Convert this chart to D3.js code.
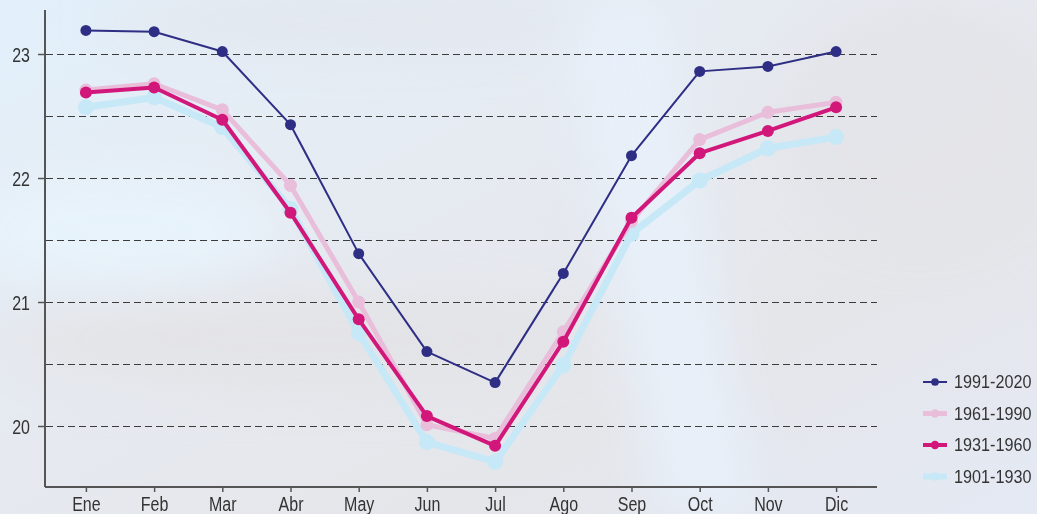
<!DOCTYPE html>
<html>
<head>
<meta charset="utf-8">
<script src="https://cdn.jsdelivr.net/npm/d3@7"></script>
<style>
html,body{margin:0;padding:0;background:#e6e8ee;}
svg{display:block;}
text{font-family:"Liberation Sans",Arial,sans-serif;fill:#333;}
</style>
</head>
<body>
<svg id="chart" width="1037" height="514"></svg>
<script>
const months = ["Ene","Feb","Mar","Abr","May","Jun","Jul","Ago","Sep","Oct","Nov","Dic"];
const yTicks = [20, 21, 22, 23];
const gridValues = [20, 20.5, 21, 21.5, 22, 22.5, 23];

const s1991 = [23.19, 23.18, 23.02, 22.43, 21.39, 20.60, 20.35, 21.23, 22.18, 22.86, 22.90, 23.02];
const s1961 = [22.71, 22.76, 22.55, 21.94, 21.00, 20.01, 19.90, 20.76, 21.65, 22.31, 22.53, 22.61];
const s1931 = [22.69, 22.73, 22.47, 21.72, 20.86, 20.08, 19.84, 20.68, 21.68, 22.20, 22.38, 22.57];
const s1901 = [22.57, 22.65, 22.41, 21.75, 20.75, 19.87, 19.71, 20.49, 21.55, 21.98, 22.24, 22.33];

const seriesNames = ["1991-2020","1961-1990","1931-1960","1901-1930"];

const svg = d3.select("#chart");
const W = 1037, H = 514;

// background
const defs = svg.append("defs");
const bg = defs.append("linearGradient").attr("id","bg").attr("x1","0").attr("y1","0").attr("x2","1").attr("y2","1");
bg.append("stop").attr("offset","0").attr("stop-color","#e2f0fb");
bg.append("stop").attr("offset","0.35").attr("stop-color","#e6ebf2");
bg.append("stop").attr("offset","0.7").attr("stop-color","#e5e6ea");
bg.append("stop").attr("offset","1").attr("stop-color","#e4e9f4");
const blur = defs.append("filter").attr("id","blur").attr("x","-50%").attr("y","-50%").attr("width","200%").attr("height","200%");
blur.append("feGaussianBlur").attr("stdDeviation", 25);
svg.append("rect").attr("width",W).attr("height",H).attr("fill","url(#bg)");
const soft = svg.append("g").attr("filter","url(#blur)");
soft.append("ellipse").attr("cx",120).attr("cy",230).attr("rx",160).attr("ry",60).attr("fill","#e8f3fc").attr("opacity",0.9);
soft.append("ellipse").attr("cx",300).attr("cy",340).attr("rx",300).attr("ry",50).attr("fill","#e3e3e7").attr("opacity",0.9);
soft.append("path").attr("d","M560,0 L660,0 L760,514 L660,514 Z").attr("fill","#e8f1fb").attr("opacity",0.9);
soft.append("ellipse").attr("cx",920).attr("cy",120).attr("rx",140).attr("ry",120).attr("fill","#e4e4e8").attr("opacity",0.8);
soft.append("ellipse").attr("cx",350).attr("cy",20).attr("rx",250).attr("ry",30).attr("fill","#e4e6ec").attr("opacity",0.8);

const x = d3.scalePoint().domain(months).range([45, 877]).padding(0.6);
const y = d3.scaleLinear().domain([19.508, 23.355]).range([487, 10]);

// gridlines
svg.append("g").selectAll("line").data(gridValues).join("line")
  .attr("x1", 46).attr("x2", 877)
  .attr("y1", d => Math.round(y(d)) + 0.5).attr("y2", d => Math.round(y(d)) + 0.5)
  .attr("stroke", "#3c3c3c").attr("stroke-width", 1).attr("stroke-dasharray", "7,4");

// y axis
const yAxis = svg.append("g").attr("transform","translate(45,0)")
  .call(d3.axisLeft(y).tickValues(yTicks).tickSize(7).tickPadding(8).tickFormat(d3.format("d")));
yAxis.select(".domain").attr("d", `M0,${y.range()[1]}V${y.range()[0]}`).attr("stroke","#555").attr("stroke-width",2);
yAxis.selectAll(".tick").attr("transform", d => `translate(0,${Math.round(y(d)) + 0.5})`);
yAxis.selectAll(".tick line").attr("stroke","#555").attr("stroke-width",1.5);
yAxis.selectAll(".tick text").attr("font-size",20).attr("fill","#333")
  .attr("x", 0).attr("dy","0.36em").attr("transform","translate(-15,0) scale(0.8,1)");

// x axis
const xAxis = svg.append("g").attr("transform","translate(0,487)")
  .call(d3.axisBottom(x).tickSize(5).tickPadding(3));
xAxis.select(".domain").attr("d", "M45,0H877").attr("stroke","#555").attr("stroke-width",2);
xAxis.selectAll(".tick line").attr("stroke","#555").attr("stroke-width",1.5);
xAxis.selectAll(".tick text").attr("font-size",20).attr("fill","#333")
  .attr("y", 0).attr("dy", 0).attr("transform","translate(0,24) scale(0.8,1)");

const styles = {
  "1901-1930": {data: s1901, color:"#c6e8f7", width:7, r:8},
  "1961-1990": {data: s1961, color:"#e9bedb", width:5, r:6.5},
  "1931-1960": {data: s1931, color:"#d2177a", width:4, r:6},
  "1991-2020": {data: s1991, color:"#2e2e84", width:2, r:5.5}
};
const drawOrder = ["1901-1930","1961-1990","1931-1960","1991-2020"];
const line = d3.line().x((d,i) => x(months[i])).y(d => y(d));
drawOrder.forEach(name => {
  const s = styles[name];
  const g = svg.append("g");
  g.append("path").datum(s.data).attr("d", line).attr("fill","none")
    .attr("stroke", s.color).attr("stroke-width", s.width).attr("stroke-linejoin","round");
  g.selectAll("circle").data(s.data).join("circle")
    .attr("cx", (d,i) => x(months[i])).attr("cy", d => y(d)).attr("r", s.r).attr("fill", s.color);
});

// legend
const legend = svg.append("g");
seriesNames.forEach((name, i) => {
  const s = styles[name];
  const ly = 382 + i * 31.5;
  legend.append("line").attr("x1", 923).attr("x2", 947).attr("y1", ly).attr("y2", ly)
    .attr("stroke", s.color).attr("stroke-width", s.width === 7 ? 6 : s.width);
  legend.append("circle").attr("cx", 935).attr("cy", ly).attr("r", Math.min(s.r, 6) * 0.7).attr("fill", s.color);
  legend.append("text").attr("x", 954).attr("y", ly).attr("dy","0.36em")
    .attr("font-size", 18).attr("transform", `translate(${954*0.1},0) scale(0.9,1)`).text(name);
});
</script>
</body>
</html>
